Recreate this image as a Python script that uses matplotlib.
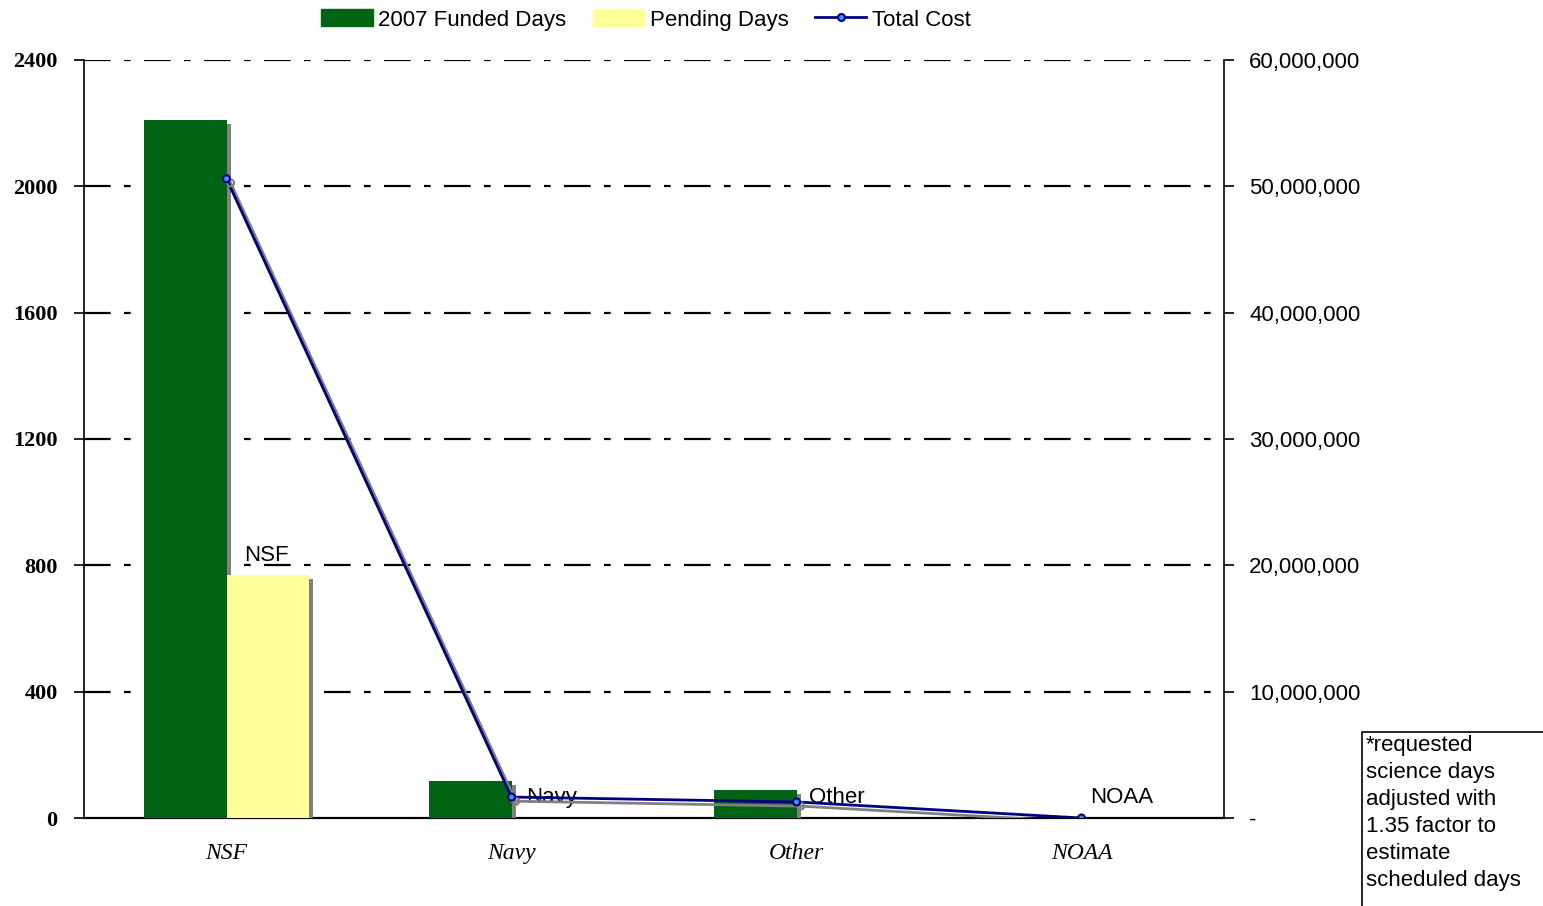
import numpy as np
import matplotlib.pyplot as plt
import matplotlib.patheffects as pe
from matplotlib.patches import Patch, Rectangle
from matplotlib.lines import Line2D

# data
categories = ["NSF", "Navy", "Other", "NOAA"]
funded_days = [2210, 117, 89, 0]
pending_days = [769, 0, 0, 0]
total_cost = [50600000, 1660000, 1270000, 0]
point_labels = ["NSF", "Navy", "Other", "NOAA"]

fig = plt.figure(figsize=(15.43, 9.06), dpi=100)
ax = fig.add_axes([84 / 1543, 88 / 906, 1140 / 1543, 758 / 906])

x = np.arange(len(categories))
w = 0.288
bar_shadow = [pe.SimplePatchShadow(offset=(3, -3), shadow_rgbFace='#808080', alpha=1), pe.Normal()]
b1 = ax.bar(x - w / 2, funded_days, w, color='#006414', zorder=3)
b2 = ax.bar(x + w / 2, pending_days, w, color='#ffff99', zorder=3)
for b in list(b1) + list(b2):
    if b.get_height() > 0:
        b.set_path_effects(bar_shadow)

ax.set_xlim(-0.5, len(categories) - 0.5)
ax.set_ylim(0, 2400)
ax.set_yticks(np.arange(0, 2401, 400))
ax.set_yticklabels([str(v) for v in range(0, 2401, 400)],
                   family='Liberation Serif', fontweight='bold', fontsize=16)
ax.set_xticks(x)
ax.set_xticklabels(categories, family='Liberation Serif', style='italic', fontsize=17)
ax.tick_params(axis='x', length=0, pad=18)
ax.tick_params(axis='y', length=7, width=1.2, direction='out', pad=12)
for gy in range(400, 2401, 400):
    ax.axhline(gy, color='black', lw=1.6, ls=(0, (12, 6, 3, 6)), zorder=1)
ax.spines['top'].set_visible(False)
ax.spines['left'].set_linewidth(1.2)
ax.spines['bottom'].set_linewidth(1.6)
ax.spines['right'].set_visible(False)

ax2 = ax.twinx()
ax2.set_ylim(0, 60000000)
ax2.set_yticks(np.arange(0, 60000001, 10000000))
ax2.set_yticklabels(["-"] + [f"{v:,}" for v in range(10000000, 60000001, 10000000)],
                    family='Liberation Sans', fontsize=16)
ax2.tick_params(axis='y', length=7, width=1.2, direction='out', pad=11)
for s in ['top', 'left', 'bottom']:
    ax2.spines[s].set_visible(False)
ax2.spines['right'].set_linewidth(1.2)

line, = ax2.plot(x, total_cost, color='#000080', lw=2, marker='o', ms=5,
                 mfc='#3399ff', mec='#000080', mew=1.5, zorder=5)
line.set_path_effects([pe.SimpleLineShadow(offset=(3, -3), shadow_color='#808080', alpha=1), pe.Normal()])

label_pos = [(x[0] + 0.14, 20800000), (x[1] + 0.14, 1660000), (x[2] + 0.14, 1660000), (x[3] + 0.14, 1660000)]
for (lx, ly), t in zip(label_pos, point_labels):
    ax2.text(lx, ly, t, family='Liberation Sans', fontsize=16, va='center', ha='center')

handles = [Patch(color='#006414'), Patch(color='#ffff99'),
           Line2D([], [], color='#000080', lw=2, marker='o', ms=5, mfc='#3399ff', mec='#000080', mew=1.5)]
fig.legend(handles, ["2007 Funded Days", "Pending Days", "Total Cost"],
           loc='center', bbox_to_anchor=(646 / 1543, 1 - 20 / 906), ncol=3, frameon=False,
           prop={'family': 'Liberation Sans', 'size': 16}, handlelength=2.3, handleheight=0.8,
           columnspacing=1.2, handletextpad=0.25)

# note box running off the figure edge
fig.patches.append(Rectangle((1362 / 1543, -0.05), 0.2, 1 - 732 / 906 + 0.05,
                             transform=fig.transFigure, fc='white', ec='black', lw=1.2))
fig.text(1366 / 1543, 1 - 735 / 906,
         "*requested\nscience days\nadjusted with\n1.35 factor to\nestimate\nscheduled days",
         family='Liberation Sans', fontsize=16, va='top', ha='left', linespacing=1.38)

fig.savefig("out.png", dpi=100)
